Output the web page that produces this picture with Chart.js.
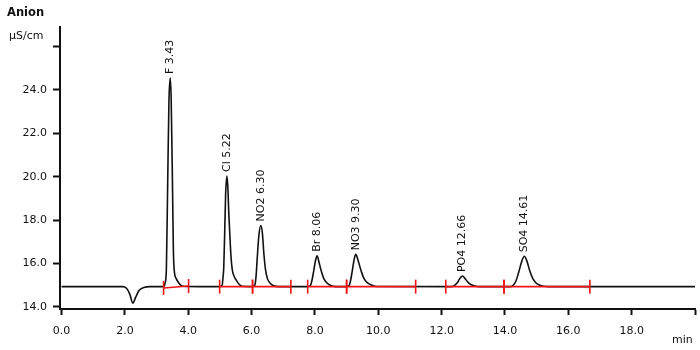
<!DOCTYPE html>
<html>
<head>
<meta charset="utf-8">
<script src="https://cdn.jsdelivr.net/npm/chart.js@4/dist/chart.umd.min.js"></script>
<style>
  html, body { margin: 0; padding: 0; background: #fff; }
  #wrap { width: 700px; height: 350px; }
</style>
</head>
<body>
<div id="wrap"><canvas id="chromChart"></canvas></div>
<script>
// detector trace, time in min / conductivity in µS/cm
const traceTimes = [
    0, 1.92, 2.05, 2.15, 2.25, 2.34, 2.45, 2.6, 2.8,
    3.22, 3.27, 3.31, 3.35, 3.39, 3.43, 3.46, 3.50, 3.53, 3.56, 3.62, 3.7, 3.78, 3.9,
    4.99, 5.07, 5.10, 5.12, 5.15, 5.18, 5.22, 5.25, 5.28, 5.31, 5.35, 5.39, 5.45, 5.52, 5.6, 5.7,
    6.03, 6.10, 6.14, 6.18, 6.23, 6.29, 6.34, 6.39, 6.44, 6.50, 6.58, 6.7, 6.85,
    7.77, 7.85, 7.91, 7.96, 8.02, 8.07, 8.12, 8.2, 8.28, 8.38, 8.5, 8.65,
    9.0, 9.08, 9.13, 9.18, 9.24, 9.29, 9.35, 9.41, 9.47, 9.55, 9.65, 9.8, 9.95,
    12.3, 12.4, 12.5, 12.58, 12.66, 12.74, 12.82, 12.92, 13.05, 13.2,
    14.15, 14.25, 14.35, 14.44, 14.53, 14.61, 14.69, 14.79, 14.88, 14.98, 15.1, 15.3, 15.5,
    20.0
];
const traceValues = [
    14.93, 14.93, 14.86, 14.6, 14.17, 14.45, 14.76, 14.89, 14.93,
    14.93, 15.1, 15.8, 19.7, 23.5, 24.55, 23.6, 19.8, 16.6, 15.65, 15.3, 15.1, 14.98, 14.94,
    14.93, 15.0, 15.4, 15.8, 17.4, 19.2, 20.03, 19.5, 18.3, 17.4, 16.3, 15.7, 15.4, 15.22, 15.05, 14.95,
    14.93, 15.0, 15.4, 16.3, 17.3, 17.75, 17.4, 16.4, 15.7, 15.3, 15.1, 14.97, 14.93,
    14.93, 14.97, 15.25, 15.65, 16.15, 16.35, 16.1, 15.65, 15.3, 15.1, 14.98, 14.93,
    14.93, 14.98, 15.25, 15.67, 16.2, 16.42, 16.2, 15.9, 15.6, 15.3, 15.12, 15.0, 14.94,
    14.93, 14.98, 15.12, 15.32, 15.42, 15.3, 15.15, 15.03, 14.96, 14.93,
    14.93, 14.98, 15.2, 15.63, 16.1, 16.33, 16.12, 15.63, 15.3, 15.1, 15.0, 14.94, 14.93,
    14.93
];

// identified peaks
const peakNames = ['F', 'Cl', 'NO2', 'Br', 'NO3', 'PO4', 'SO4'];
const peakTimes = [3.43, 5.22, 6.30, 8.06, 9.30, 12.66, 14.61];
const peakHeights = [24.55, 20.03, 17.75, 16.35, 16.42, 15.42, 16.33];

// integration windows [start, end] and the baseline level at each end
const windowStarts = [3.22, 4.99, 6.03, 7.77, 9.00, 12.13, 13.97];
const windowEnds = [4.01, 6.03, 7.24, 9.00, 11.18, 13.97, 16.68];
const windowBaseStart = [14.87, 14.93, 14.93, 14.93, 14.93, 14.93, 14.93];
const windowBaseEnd = [14.96, 14.93, 14.93, 14.93, 14.93, 14.93, 14.93];

const xTickValues = [0, 2, 4, 6, 8, 10, 12, 14, 16, 18, 20];
const yTickValues = [14, 16, 18, 20, 22, 24, 26];

const FONT = 'DejaVu Sans';
const INK = '#111';
const RED = '#f01414';

const trace = traceTimes.map((t, i) => ({ x: t, y: traceValues[i] }));

// red integration baselines, peak labels and the unit captions
const annotate = {
    id: 'annotate',
    afterDatasetsDraw(chart) {
        const ctx = chart.ctx;
        const xs = chart.scales.x, ys = chart.scales.y;
        ctx.save();
        ctx.strokeStyle = RED;
        ctx.lineWidth = 1.6;
        for (let i = 0; i < windowStarts.length; i++) {
            const x1 = xs.getPixelForValue(windowStarts[i]);
            const x2 = xs.getPixelForValue(windowEnds[i]);
            const y1 = ys.getPixelForValue(windowBaseStart[i]);
            const y2 = ys.getPixelForValue(windowBaseEnd[i]);
            ctx.beginPath();
            ctx.moveTo(x1, y1);
            ctx.lineTo(x2, y2);
            ctx.stroke();
            [[x1, y1], [x2, y2]].forEach(([px, py]) => {
                ctx.beginPath();
                ctx.moveTo(px, py - 7);
                ctx.lineTo(px, py + 7);
                ctx.stroke();
            });
        }

        ctx.fillStyle = INK;
        ctx.font = '11px "' + FONT + '"';
        ctx.textAlign = 'left';
        ctx.textBaseline = 'middle';
        peakNames.forEach((name, i) => {
            const px = xs.getPixelForValue(peakTimes[i]);
            const py = ys.getPixelForValue(peakHeights[i]);
            ctx.save();
            ctx.translate(px, py - 4);
            ctx.rotate(-Math.PI / 2);
            ctx.fillText(name + ' ' + peakTimes[i].toFixed(2), 0, 0);
            ctx.restore();
        });

        ctx.font = 'bold 11.5px "' + FONT + '"';
        ctx.fillText('Anion', 7, 13);
        ctx.font = '11px "' + FONT + '"';
        ctx.fillText('µS/cm', 9, 36);
        ctx.fillText('min', 672, 340);
        ctx.restore();
    }
};

new Chart(document.getElementById('chromChart'), {
    type: 'line',
    data: {
        datasets: [{
            data: trace,
            borderColor: INK,
            borderWidth: 1.6,
            pointRadius: 0,
            cubicInterpolationMode: 'monotone',
            fill: false
        }]
    },
    options: {
        responsive: true,
        maintainAspectRatio: false,
        animation: false,
        events: [],
        layout: { padding: { left: 0, top: 27, right: 0, bottom: 0 } },
        plugins: { legend: { display: false }, tooltip: { enabled: false } },
        scales: {
            x: {
                type: 'linear',
                min: -0.05,
                max: 20,
                afterBuildTicks: s => { s.ticks = xTickValues.map(v => ({ value: v })); },
                afterFit: s => { s.height = 41; s.paddingRight = 5; },
                grid: { drawOnChartArea: false, drawTicks: true, tickLength: 6, tickWidth: 2, tickColor: INK },
                border: { display: true, color: INK, width: 2 },
                ticks: {
                    padding: 10,
                    color: INK,
                    maxRotation: 0,
                    font: { family: FONT, size: 11 },
                    callback: v => (v >= 20 ? '' : v.toFixed(1))
                }
            },
            y: {
                min: 13.9,
                max: 26.9,
                afterBuildTicks: s => { s.ticks = yTickValues.map(v => ({ value: v })); },
                afterFit: s => { s.width = 60; },
                grid: { drawOnChartArea: false, drawTicks: true, tickLength: 7, tickWidth: 2, tickColor: INK },
                border: { display: true, color: INK, width: 2 },
                ticks: {
                    padding: 6,
                    color: INK,
                    font: { family: FONT, size: 11 },
                    callback: v => (v >= 26 ? '' : v.toFixed(1))
                }
            }
        }
    },
    plugins: [annotate]
});
</script>
</body>
</html>
